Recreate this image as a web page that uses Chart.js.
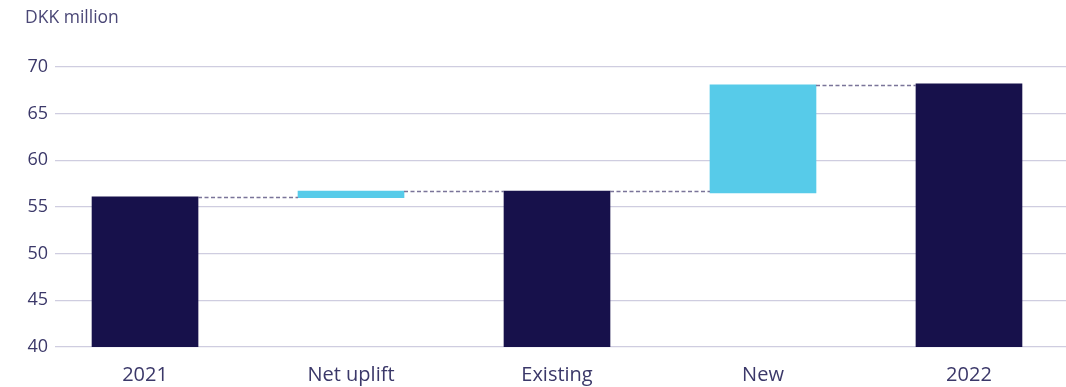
<!DOCTYPE html>
<html>
<head>
<meta charset="utf-8">
<script src="https://cdn.jsdelivr.net/npm/chart.js@4.4.0/dist/chart.umd.min.js"></script>
<style>
    html, body { margin: 0; padding: 0; background: #fff; }
    #wrap { width: 1066px; height: 387px; }
</style>
</head>
<body>
<div id="wrap"><canvas id="puenteChart"></canvas></div>
<script>
// datos del puente (DKK million)
const categorias = ['2021', 'Net uplift', 'Existing', 'New', '2022'];
const inicios = [null, 56.0, null, 56.5, null];   // null = desde la base del eje
const finales = [56.1, 56.7, 56.7, 68.1, 68.2];
const esTotal = [true, false, true, false, true];
const ticksY = [40, 45, 50, 55, 60, 65, 70];

const yMin = ticksY[0];
const yMax = ticksY[ticksY.length - 1];

const colorTotal = '#17114b';
const colorCambio = '#57cbe9';
const colorTexto = '#3b3869';

const datos = categorias.map((c, i) => ({
    x: i,
    y: [inicios[i] === null ? yMin : inicios[i], finales[i]]
}));

// lineas punteadas entre barras
const conectores = {
    id: 'conectores',
    afterDatasetsDraw(chart) {
        const meta = chart.getDatasetMeta(0);
        const y = chart.scales.y;
        const ctx = chart.ctx;
        ctx.save();
        ctx.strokeStyle = '#7a7499';
        ctx.lineWidth = 1.3;
        ctx.setLineDash([4, 2.5]);
        for (let i = 0; i < meta.data.length - 1; i++) {
            const a = meta.data[i];
            const b = meta.data[i + 1];
            const py = Math.round(y.getPixelForValue(finales[i])) + 0.5;
            ctx.beginPath();
            ctx.moveTo(a.x + a.width / 2, py);
            ctx.lineTo(b.x - b.width / 2, py);
            ctx.stroke();
        }
        ctx.restore();
    }
};

const ctx = document.getElementById('puenteChart').getContext('2d');

new Chart(ctx, {
    type: 'bar',
    data: {
        datasets: [{
            data: datos,
            backgroundColor: esTotal.map(t => t ? colorTotal : colorCambio),
            borderWidth: 0,
            barThickness: 106,
            grouped: false
        }]
    },
    options: {
        responsive: true,
        maintainAspectRatio: false,
        animation: false,
        layout: { padding: { left: 25, right: 0, top: 0, bottom: 0 } },
        plugins: {
            legend: { display: false },
            tooltip: { enabled: false },
            title: {
                display: true,
                text: 'DKK million',
                align: 'start',
                color: '#4a4776',
                font: { family: 'Open Sans', size: 17.5, weight: 'normal' },
                padding: { top: 8, bottom: 38 }
            }
        },
        scales: {
            x: {
                type: 'linear',
                offset: false,
                min: -0.437,
                max: 4.471,
                grid: { display: false, drawTicks: false },
                border: { display: false },
                afterBuildTicks: s => { s.ticks = categorias.map((c, i) => ({ value: i })); },
                afterFit: s => { s.height = 40; },
                ticks: {
                    autoSkip: false,
                    maxRotation: 0,
                    padding: 16,
                    color: colorTexto,
                    font: { family: 'Open Sans', size: 20 },
                    callback: v => categorias[v]
                }
            },
            y: {
                min: yMin,
                max: yMax,
                afterBuildTicks: s => { s.ticks = ticksY.map(v => ({ value: v })); },
                afterFit: s => { s.width = 30; },
                grid: { color: '#cfcde0', lineWidth: 1.2, drawTicks: false },
                border: { display: false },
                ticks: {
                    padding: 7,
                    color: colorTexto,
                    font: { family: 'Open Sans', size: 18 }
                }
            }
        }
    },
    plugins: [conectores]
});
</script>
</body>
</html>
